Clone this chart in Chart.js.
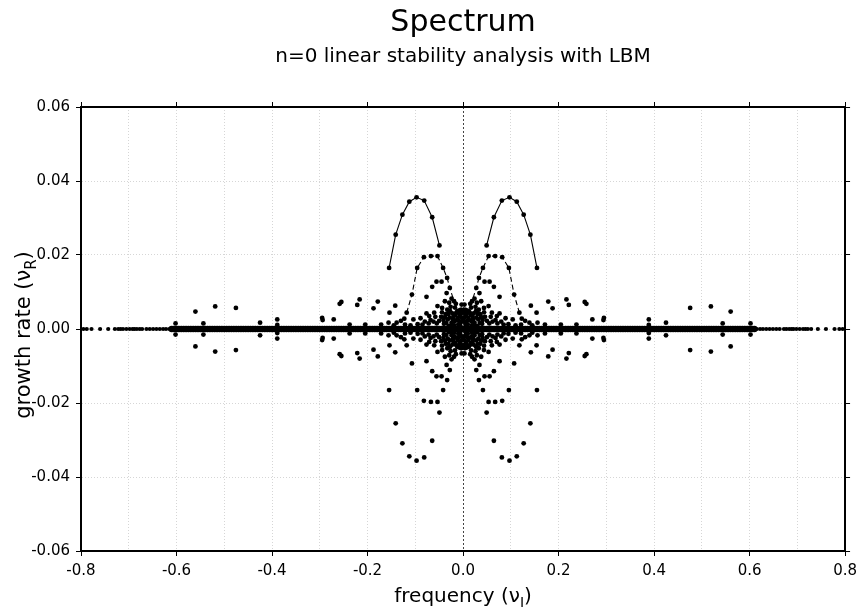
<!DOCTYPE html>
<html>
<head>
<meta charset="utf-8">
<script src="https://cdn.jsdelivr.net/npm/chart.js@4/dist/chart.umd.min.js"></script>
<style>
html,body{margin:0;padding:0;background:#fff;}
canvas{display:block;}
</style>
</head>
<body>
<canvas id="c" width="863" height="613"></canvas>
<script>
// ---- Data. Eigenvalues come in ± frequency pairs and
// ---- complex-conjugate growth-rate pairs, so one quadrant is listed and mirrored.

// Real-axis eigenvalues (growth rate 0), negative-frequency side
const axisFreqSparse = [-0.795,-0.788,-0.778,-0.760,-0.743,-0.729,-0.722,-0.717,-0.712,-0.705,-0.698,-0.692,-0.688,-0.683,-0.677,-0.672,-0.663,-0.656,-0.649,-0.642,-0.635,-0.628,-0.622,-0.615];
const axisFreqDense = [-0.610,-0.605,-0.600,-0.595,-0.590,-0.585,-0.580,-0.575,-0.570,-0.565,-0.560,-0.555,-0.550,-0.545,-0.540,-0.535,-0.530,-0.525,-0.520,-0.515,-0.510,-0.505,-0.500,-0.495,-0.490,-0.485,-0.480,-0.475,-0.470,-0.465,-0.460,-0.455,-0.450,-0.445,-0.440,-0.435,-0.430,-0.425,-0.420,-0.415,-0.410,-0.405,-0.400,-0.395,-0.390,-0.385,-0.380,-0.375,-0.370,-0.365,-0.360,-0.355,-0.350,-0.345,-0.340,-0.335,-0.330,-0.325,-0.320,-0.315,-0.310,-0.305,-0.300,-0.295,-0.290,-0.285,-0.280,-0.275,-0.270,-0.265,-0.260,-0.255,-0.250,-0.245,-0.240,-0.235,-0.230,-0.225,-0.220,-0.215,-0.210,-0.205,-0.200,-0.195,-0.190,-0.185,-0.180,-0.175,-0.170,-0.165,-0.160,-0.155,-0.150,-0.145,-0.140,-0.135,-0.130,-0.125,-0.120,-0.115,-0.110,-0.105,-0.100,-0.095,-0.090,-0.085,-0.080,-0.075,-0.070,-0.065,-0.060,-0.055,-0.050,-0.045,-0.040,-0.035,-0.030,-0.025,-0.020,-0.015,-0.010,-0.005,0];

// Most unstable branch (solid line), upper-left quadrant
const branch1Freq = [-0.1548,-0.1410,-0.1270,-0.1125,-0.0973,-0.0813,-0.0646,-0.0494];
const branch1Rate = [ 0.0165, 0.0255, 0.0309, 0.0344, 0.0356, 0.0347, 0.0302, 0.0226];

// Second branch (dashed line), upper-left quadrant
const branch2Freq = [-0.1180,-0.1070,-0.0960,-0.0820,-0.0673,-0.0535,-0.0417,-0.0333,-0.0277,-0.0188];
const branch2Rate = [ 0.0044, 0.0093, 0.0165, 0.0194, 0.0197, 0.0197, 0.0165, 0.0138, 0.0111, 0.0075];

// Remaining complex eigenvalues, upper-left quadrant
const otherFreq = [-0.602,-0.5604,-0.5437,-0.519,-0.4756,-0.425,-0.389,-0.389,-0.295,-0.294,-0.2708,-0.2583,-0.2548,-0.2375,-0.2215,-0.2165,-0.2048,-0.1875,-0.1785,-0.1715,-0.156,-0.154,-0.142,-0.139,-0.123,-0.1215,-0.104,-0.089,-0.0765,-0.0765,-0.0708,-0.0646,-0.0604,-0.0556,-0.0535,-0.045,-0.0438,-0.038,-0.0344,-0.029,-0.024,-0.014,-0.0056,
  -0.085,-0.072,-0.062,-0.050,-0.046,-0.040,-0.036,-0.032,-0.027,-0.024,-0.020,-0.017,-0.013,-0.010,-0.008,-0.005,-0.003,-0.002,-0.019,-0.030,
  -0.044,-0.041,-0.038,-0.035,-0.033,-0.031,-0.028,-0.026,-0.025,-0.022,-0.021,-0.018,-0.016,-0.015,-0.012,-0.011,-0.009,-0.007,-0.006,-0.004,-0.003,-0.001,-0.055,-0.058,-0.068,-0.080,-0.095,-0.110,-0.130,-0.145];
const otherRate = [0.0015,0.0047,0.0015,0.0061,0.0057,0.0017,0.0026,0.0011,0.0030,0.0024,0.0026,0.0068,0.0073,0.0012,0.0065,0.0080,0.0012,0.0056,0.0074,0.0012,0.0017,0.0044,0.0063,0.0017,0.0028,0.0012,0.0026,0.0029,0.0087,0.0042,0.0035,0.0114,0.0044,0.0128,0.0062,0.0128,0.0057,0.0075,0.0097,0.0071,0.0082,0.0044,0.0035,
  0.0012,0.0015,0.0020,0.0022,0.0033,0.0014,0.0040,0.0026,0.0048,0.0017,0.0033,0.0058,0.0024,0.0012,0.0050,0.0018,0.0066,0.0030,0.0010,0.0008,
  0.0045,0.0024,0.0032,0.0016,0.0052,0.0040,0.0031,0.0060,0.0010,0.0042,0.0026,0.0020,0.0038,0.0068,0.0048,0.0030,0.0022,0.0040,0.0010,0.0052,0.0020,0.0044,0.0015,0.0033,0.0024,0.0020,0.0013,0.0010,0.0022,0.0010];

// Axes
const xTickValues = [-0.8,-0.6,-0.4,-0.2,0.0,0.2,0.4,0.6,0.8];
const yTickValues = [-0.06,-0.04,-0.02,0.00,0.02,0.04,0.06];

// ---- Build datasets ----
const FONT = 'DejaVu Sans';
const mirrorAxis = fs => fs.flatMap(f => f === 0 ? [{x: 0, y: 0}] : [{x: f, y: 0}, {x: -f, y: 0}]);
function fourfold(fs, rs) {
  const out = [];
  fs.forEach((f, i) => {
    out.push({x: f, y: rs[i]}, {x: -f, y: rs[i]}, {x: f, y: -rs[i]}, {x: -f, y: -rs[i]});
  });
  return out;
}
const upper = (fs, rs, s) => fs.map((f, i) => ({x: s * f, y: rs[i]}));
const lower = (fs, rs) => fs.flatMap((f, i) => [{x: f, y: -rs[i]}, {x: -f, y: -rs[i]}]);

const R = 2.4;
const pointDs = (data, r) => ({data, showLine: false, pointRadius: r || R, pointBackgroundColor: '#000', pointBorderWidth: 0, pointHoverRadius: r || R});
const lineDs = (data, dash) => ({data, showLine: true, borderColor: '#000', borderWidth: 1.1, borderDash: dash, pointRadius: R, pointBackgroundColor: '#000', pointBorderWidth: 0, pointHoverRadius: R, tension: 0});

const isMajorX = v => Math.abs(Math.round(v * 10)) % 2 === 0;
const isZero = v => Math.abs(v) < 1e-9;

function drawSubText(ctx, pre, sub, post, cx, cy, rot, size) {
  const big = size + 'px "' + FONT + '"';
  const small = Math.round(size * 0.7) + 'px "' + FONT + '"';
  ctx.save();
  ctx.font = big;
  const w1 = ctx.measureText(pre).width, w3 = ctx.measureText(post).width;
  ctx.font = small;
  const w2 = ctx.measureText(sub).width;
  ctx.translate(cx, cy);
  ctx.rotate(rot);
  ctx.textAlign = 'left';
  ctx.textBaseline = 'alphabetic';
  ctx.fillStyle = '#000';
  let x = -(w1 + w2 + w3) / 2;
  const base = size * 0.3;
  ctx.font = big; ctx.fillText(pre, x, base); x += w1;
  ctx.font = small; ctx.fillText(sub, x, base + size * 0.25); x += w2;
  ctx.font = big; ctx.fillText(post, x, base);
  ctx.restore();
}

const axisTitlePlugin = {
  id: 'axisTitles',
  afterDraw(chart) {
    const {ctx, chartArea: a} = chart;
    drawSubText(ctx, 'frequency (\u03bd', 'I', ')', (a.left + a.right) / 2, 596, 0, 20);
    drawSubText(ctx, 'growth rate (\u03bd', 'R', ')', 24, 335, -Math.PI / 2, 21);
  }
};

const gridColor = '#d6d6d6';
const xGrid = {
  color: c => (c.tick && isZero(c.tick.value)) ? '#444' : gridColor,
  lineWidth: 1,
  tickLength: 5,
  tickColor: c => (c.tick && isMajorX(c.tick.value)) ? '#000' : 'rgba(0,0,0,0)',
};
const xBorder = {display: true, color: '#000', width: 2,
  dash: c => c.type === 'tick' ? (c.tick && isZero(c.tick.value) ? [2, 2] : [1, 2]) : []};

new Chart(document.getElementById('c'), {
  type: 'scatter',
  data: {
    datasets: [
      pointDs(mirrorAxis(axisFreqSparse), 2.1),
      pointDs(mirrorAxis(axisFreqDense), 3.3),
      pointDs(fourfold(otherFreq, otherRate)),
      pointDs(lower(branch1Freq, branch1Rate)),
      pointDs(lower(branch2Freq, branch2Rate)),
      lineDs(upper(branch2Freq, branch2Rate, 1), [5, 3]),
      lineDs(upper(branch2Freq, branch2Rate, -1), [5, 3]),
      lineDs(upper(branch1Freq, branch1Rate, 1), []),
      lineDs(upper(branch1Freq, branch1Rate, -1), []),
    ]
  },
  options: {
    responsive: false,
    animation: false,
    devicePixelRatio: 1,
    events: [],
    layout: {padding: 0},
    plugins: {
      legend: {display: false},
      tooltip: {enabled: false},
      title: {display: true, fullSize: false, text: 'Spectrum', color: '#000',
        font: {family: FONT, size: 30, weight: 'normal', lineHeight: 1.2}, padding: {top: 5, bottom: 0}},
      subtitle: {display: true, fullSize: false, text: 'n=0 linear stability analysis with LBM', color: '#000',
        font: {family: FONT, size: 20, weight: 'normal', lineHeight: 1.2}, padding: {top: 4, bottom: 0}},
    },
    scales: {
      x: {
        type: 'linear', position: 'bottom', min: -0.8, max: 0.8,
        afterFit: s => { s.height = 62; },
        ticks: {stepSize: 0.1, autoSkip: false, maxRotation: 0, padding: 6, color: '#000',
          font: {family: FONT, size: 15},
          callback: v => isMajorX(v) ? (isZero(v) ? '0.0' : v.toFixed(1)) : ''},
        grid: xGrid, border: xBorder,
      },
      x2: {
        type: 'linear', position: 'top', min: -0.8, max: 0.8,
        afterFit: s => { s.height = 38; },
        ticks: {display: false, stepSize: 0.1, autoSkip: false},
        grid: {drawOnChartArea: false, tickLength: 5,
          tickColor: c => (c.tick && isMajorX(c.tick.value)) ? '#000' : 'rgba(0,0,0,0)'},
        border: {display: true, color: '#000', width: 2},
      },
      y: {
        type: 'linear', position: 'left', min: -0.06, max: 0.06,
        afterFit: s => { s.width = 81; },
        ticks: {stepSize: 0.02, padding: 6, color: '#000', font: {family: FONT, size: 15},
          callback: v => isZero(v) ? '0.00' : v.toFixed(2)},
        grid: {color: gridColor, lineWidth: 1, tickLength: 5, tickColor: '#000'},
        border: {display: true, color: '#000', width: 2, dash: c => c.type === 'tick' ? [1, 2] : []},
      },
      y2: {
        type: 'linear', position: 'right', min: -0.06, max: 0.06,
        afterFit: s => { s.width = 15; },
        ticks: {display: false, stepSize: 0.02},
        grid: {drawOnChartArea: false, tickLength: 5, tickColor: '#000'},
        border: {display: true, color: '#000', width: 2},
      }
    }
  },
  plugins: [axisTitlePlugin]
});
</script>
</body>
</html>
